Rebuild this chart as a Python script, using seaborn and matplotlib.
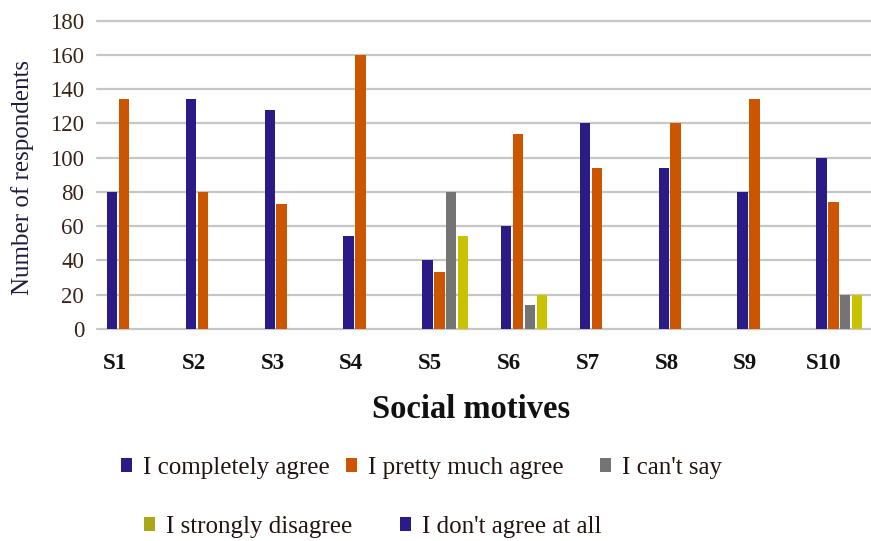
import matplotlib
matplotlib.use("Agg")
import matplotlib.pyplot as plt
import seaborn as sns
import pandas as pd

# Survey answers per social motive
motives = ["S1", "S2", "S3", "S4", "S5", "S6", "S7", "S8", "S9", "S10"]
responses = ["I completely agree", "I pretty much agree", "I can't say",
             "I strongly disagree", "I don't agree at all"]
completely_agree = [80, 134, 128, 54, 40, 60, 120, 94, 80, 100]
pretty_much_agree = [134, 80, 73, 160, 33, 114, 94, 120, 134, 74]
cant_say = [0, 0, 0, 0, 80, 14, 0, 0, 0, 20]
strongly_disagree = [0, 0, 0, 0, 54, 20, 0, 0, 0, 20]
dont_agree_at_all = [0, 0, 0, 0, 0, 0, 0, 0, 0, 0]
y_ticks = [0, 20, 40, 60, 80, 100, 120, 140, 160, 180]

series = [completely_agree, pretty_much_agree, cant_say,
          strongly_disagree, dont_agree_at_all]
rows = []
for resp, vals in zip(responses, series):
    for m, v in zip(motives, vals):
        rows.append({"motive": m, "response": resp, "count": v})
df = pd.DataFrame(rows)

colors = ["#2b1b87", "#cc5500", "#747474", "#c9c200", "#2b1b87"]
legend_colors = ["#2b1b87", "#cc5500", "#747474", "#a8a818", "#2b1b87"]

sns.set_style("white")
plt.rcParams["font.family"] = ["Liberation Serif", "DejaVu Serif"]

fig = plt.figure(figsize=(8.71, 5.41), dpi=100)
ax = fig.add_axes([0.111, 0.392, 0.9047, 0.5698])

sns.barplot(data=df, x="motive", y="count", hue="response",
            hue_order=responses, order=motives, palette=colors,
            saturation=1, width=0.76, gap=0.13, linewidth=0, ax=ax)

handles, labels = ax.get_legend_handles_labels()
if ax.legend_ is not None:
    ax.legend_.remove()

ax.set_xlim(-0.5, 9.5)
ax.set_ylim(0, 180)
ax.set_yticks(y_ticks)
ax.set_yticklabels([str(t) for t in y_ticks], fontsize=16.5, color="#3a2418")
ax.set_xticks([i - 0.27 for i in range(len(motives))])
ax.set_xticklabels(motives, fontsize=16.5, fontweight="bold", color="#111111")
ax.tick_params(axis="x", length=0, pad=17)
ax.tick_params(axis="y", length=0, pad=9)

ax.yaxis.grid(True, color="#c6c6c6", linewidth=1.6)
ax.xaxis.grid(False)
ax.set_axisbelow(True)
for gl in ax.get_ygridlines():
    gl.set_clip_on(False)
for side in ax.spines.values():
    side.set_visible(False)

ax.set_ylabel("Number of respondents", fontsize=18, color="#1e1e3c")
ax.yaxis.label.set_va("center")
ax.yaxis.set_label_coords(-0.094, 0.49)
ax.set_xlabel("Social motives", fontsize=23.5, fontweight="bold", color="#111111")
ax.xaxis.label.set_va("center")
ax.xaxis.set_label_coords(0.4746, -0.262)

# Legend laid out in two rows below the chart
entry_pos = [(121, 468), (346, 468), (600, 468), (144, 527), (400, 527)]
for h, lab, col, (px, py) in zip(handles, labels, legend_colors, entry_pos):
    leg = fig.legend(handles=[h], labels=[lab], loc="center left",
                     bbox_to_anchor=(px / 871, 1 - py / 541),
                     frameon=False, fontsize=18, handlelength=0.42,
                     handleheight=0.5, handletextpad=0.45,
                     borderpad=0, borderaxespad=0)
    for lh in leg.legend_handles:
        lh.set_facecolor(col)
    for t in leg.get_texts():
        t.set_color("#24140f")

fig.savefig("out.png", dpi=100)
